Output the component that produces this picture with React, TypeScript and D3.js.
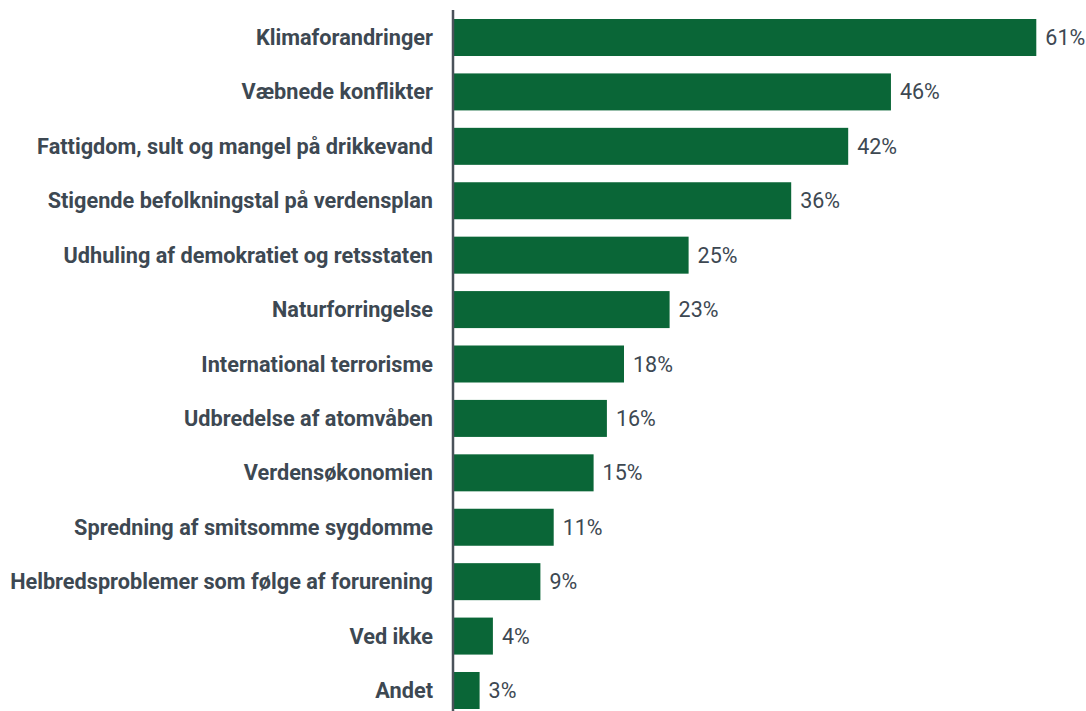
import React from "react";
import * as d3 from "d3";

const categories = [
  "Klimaforandringer",
  "Væbnede konflikter",
  "Fattigdom, sult og mangel på drikkevand",
  "Stigende befolkningstal på verdensplan",
  "Udhuling af demokratiet og retsstaten",
  "Naturforringelse",
  "International terrorisme",
  "Udbredelse af atomvåben",
  "Verdensøkonomien",
  "Spredning af smitsomme sygdomme",
  "Helbredsproblemer som følge af forurening",
  "Ved ikke",
  "Andet",
];
// estimated unrounded shares (%), labels show rounded values
const values = [61.4, 46.1, 41.6, 35.6, 24.8, 22.8, 18.0, 16.2, 14.8, 10.6, 9.2, 4.2, 2.8];

const W = 1086;
const H = 711;
const x0 = 453;
const textColor = "#3d4852";
const barColor = "#0a6637";

export default function App() {
  const x = d3.scaleLinear().domain([0, 10]).range([x0, x0 + 95]);
  const y = d3
    .scaleBand<string>()
    .domain(categories)
    .range([19, 709])
    .paddingInner(0.32)
    .paddingOuter(0);
  return (
    <svg
      width={W}
      height={H}
      style={{ position: "absolute", left: 0, top: 0, fontFamily: "Roboto" }}
    >
      {categories.map((c, i) => {
        const yy = y(c)!;
        const cy = yy + y.bandwidth() / 2;
        return (
          <g key={c}>
            <rect
              x={x(0)}
              y={yy}
              width={x(values[i]) - x(0)}
              height={y.bandwidth()}
              fill={barColor}
            />
            <text
              x={x0 - 20}
              y={cy}
              textAnchor="end"
              dominantBaseline="central"
              fontSize={21.7}
              fontWeight="bold"
              fill={textColor}
            >
              {c}
            </text>
            <text
              x={x(values[i]) + 9}
              y={cy}
              dominantBaseline="central"
              fontSize={21.5}
              fill={textColor}
            >
              {Math.round(values[i])}%
            </text>
          </g>
        );
      })}
      <line x1={x0} x2={x0} y1={10} y2={711} stroke="#4a525a" strokeWidth={2.5} />
    </svg>
  );
}
